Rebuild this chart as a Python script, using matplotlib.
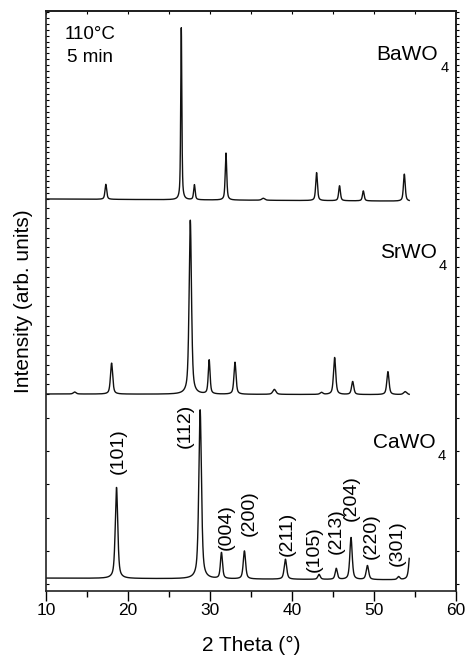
import matplotlib
matplotlib.use('Agg')
import matplotlib.pyplot as plt
import numpy as np

plt.rcParams['font.family'] = ['Liberation Sans', 'DejaVu Sans']

# peak lists (position in 2theta, height, FWHM)
ba_pos = [17.3, 26.5, 28.1, 31.95, 36.5, 43.0, 45.8, 48.7, 53.7]
ba_height = [15, 172, 15, 47, 2, 28, 15, 10, 27]
ba_fwhm = [0.25, 0.16, 0.22, 0.22, 0.45, 0.25, 0.25, 0.25, 0.26]
ba_base = [391.7, 389.5]

sr_pos = [13.5, 18.0, 27.6, 29.9, 33.05, 37.85, 43.6, 45.2, 47.4, 51.7, 53.8]
sr_height = [2, 31, 174, 34, 32, 5, 2, 37, 13, 23, 3]
sr_fwhm = [0.4, 0.32, 0.34, 0.26, 0.3, 0.45, 0.4, 0.32, 0.32, 0.32, 0.45]
sr_base = [196.7, 196.0]

ca_pos = [18.6, 28.8, 31.4, 34.2, 39.2, 43.3, 45.4, 47.2, 49.2, 53.0, 54.45]
ca_height = [91, 169, 26, 28, 20, 5, 11, 42, 14, 3, 35]
ca_fwhm = [0.36, 0.38, 0.3, 0.34, 0.36, 0.35, 0.32, 0.34, 0.36, 0.35, 0.38]
ca_base = [12.6, 10.8]

ca_hkl = ['(101)', '(112)', '(004)', '(200)', '(211)', '(105)', '(213)',
          '(204)', '(220)', '(301)']

two_theta = np.arange(10.0, 54.3, 0.005)


def pattern(base, pos, height, fwhm, eta=0.6):
    y = np.linspace(base[0], base[1], two_theta.size)
    for p, h, w in zip(pos, height, fwhm):
        d = (two_theta - p) / (w / 2)
        lor = 1 / (1 + d**2)
        gau = np.exp(-np.log(2) * d**2)
        y = y + h * (eta * lor + (1 - eta) * gau)
    return y


fig = plt.figure(figsize=(4.65, 6.57), dpi=100)
ax = fig.add_axes([0.0989, 0.1009, 0.8817, 0.8824])

for base, pos, height, fwhm in [(ba_base, ba_pos, ba_height, ba_fwhm),
                                (sr_base, sr_pos, sr_height, sr_fwhm),
                                (ca_base, ca_pos, ca_height, ca_fwhm)]:
    ax.plot(two_theta, pattern(base, pos, height, fwhm), color='#111111', lw=1.0)

ax.set_xlim(10, 60)
ax.set_ylim(0, 579.7)

# Miller indices above the CaWO4 reflections
label_xy = [(18.82, 116.7), (27.04, 142.7), (32.04, 41), (34.79, 55),
            (39.43, 35), (42.68, 18.3), (45.37, 36.7), (47.28, 70),
            (49.72, 31.7), (52.89, 25)]
for txt, (lx, ly) in zip(ca_hkl, label_xy):
    ax.text(lx, ly, txt, rotation=90, ha='center', va='bottom', fontsize=14)


def formula(x, y, metal):
    t = ax.text(x, y, metal + 'WO', fontsize=15, va='baseline')
    ax.annotate('4', xy=(1, 0), xycoords=t, xytext=(1.5, -5.5),
                textcoords='offset points', fontsize=10.5, va='baseline')


formula(50.33, 530.7, 'Ba')
formula(50.73, 332.4, 'Sr')
formula(49.91, 142.4, 'Ca')
ax.text(12.32, 551.7, '110°C', fontsize=13.5, va='baseline')
ax.text(12.6, 529.0, '5 min', fontsize=13.5, va='baseline')

ax.set_xlabel('2 Theta (°)', fontsize=15, labelpad=13)
ax.set_ylabel('Intensity (arb. units)', fontsize=15, labelpad=6)

for s in ax.spines.values():
    s.set_linewidth(1.2)
    s.set_color('#222222')

ax.set_xticks(np.arange(10, 61, 10))
ax.set_xticks(np.arange(15, 60, 10), minor=True)
ax.tick_params(axis='x', which='major', direction='out', length=7, width=1.0,
               labelsize=12.5, pad=1.5, top=False)
ax.tick_params(axis='x', which='minor', direction='out', length=4, width=1.0,
               top=False)

top = ax.secondary_xaxis('top')
top.set_xticks(np.arange(10, 61, 5))
top.tick_params(direction='in', length=2.5, width=0.8, labeltop=False)
top.spines['top'].set_linewidth(1.2)

# uneven y ticks, one spacing for each stacked pattern
yt = np.concatenate([6.7 + 33.2 * np.arange(6),
                     196.7 + 9.77 * np.arange(20),
                     391.7 + 5.83 * np.arange(33)])
yt = yt[yt < 579]
ax.set_yticks([])
ax.set_yticks(yt, minor=True)
ax.tick_params(axis='y', which='minor', direction='in', length=2, width=0.8,
               right=False)

right = ax.secondary_yaxis('right')
right.set_yticks([])
right.set_yticks(yt, minor=True)
right.tick_params(which='minor', direction='out', length=2.5, width=0.8)
right.spines['right'].set_linewidth(1.2)

fig.savefig('out.png', dpi=100)
